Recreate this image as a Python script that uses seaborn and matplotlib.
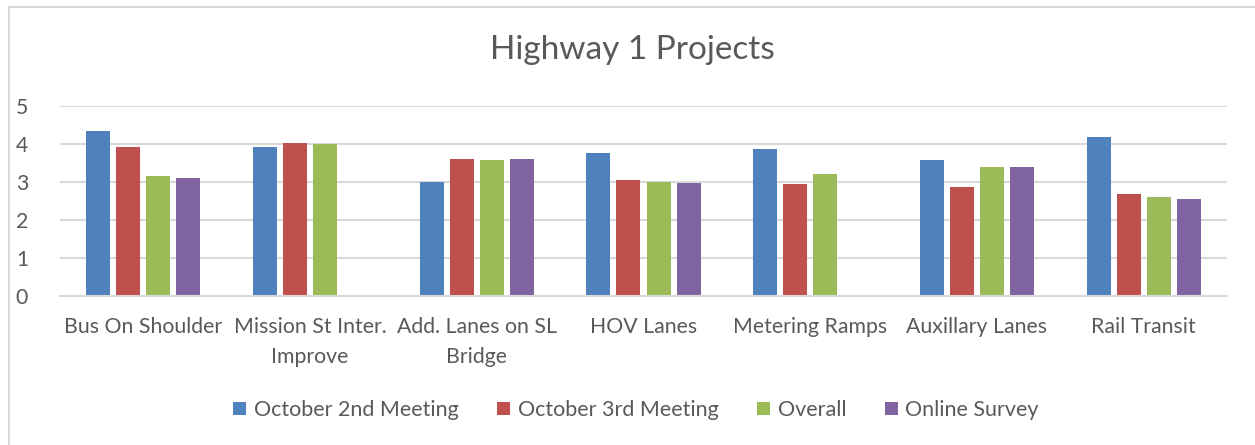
import numpy as np
import pandas as pd
import matplotlib
matplotlib.use("Agg")
import matplotlib.pyplot as plt
from matplotlib.patches import Patch, Rectangle
import seaborn as sns

projects = ["Bus On Shoulder", "Mission St Inter.\nImprove", "Add. Lanes on SL\nBridge",
            "HOV Lanes", "Metering Ramps", "Auxillary Lanes", "Rail Transit"]
series = ["October 2nd Meeting", "October 3rd Meeting", "Overall", "Online Survey"]
oct2 = [4.33, 3.91, 3.00, 3.75, 3.87, 3.57, 4.18]
oct3 = [3.91, 4.02, 3.59, 3.04, 2.95, 2.85, 2.69]
overall = [3.16, 4.00, 3.58, 2.99, 3.19, 3.38, 2.59]
online = [3.11, np.nan, 3.59, 2.96, np.nan, 3.39, 2.55]
colors = ["#4F81BD", "#C0504D", "#9BBB59", "#8064A2"]
yticks = [0, 1, 2, 3, 4, 5]

rows = []
for s, vals in zip(series, [oct2, oct3, overall, online]):
    for p, v in zip(projects, vals):
        rows.append({"project": p, "series": s, "score": v})
df = pd.DataFrame(rows)

sns.set_theme(style="white")
plt.rcParams["font.family"] = ["Lato", "DejaVu Sans"]
txt = "#595959"
grid = "#D9D9D9"

W, H = 1255, 445
fig = plt.figure(figsize=(W / 100, H / 100), dpi=100)
fig.patch.set_facecolor("white")
ax = fig.add_axes([60 / W, 1 - 296 / H, 1167 / W, 190.5 / H])

sns.barplot(data=df, x="project", y="score", hue="series", order=projects,
            hue_order=series, palette=colors, width=0.72, gap=0.2,
            errorbar=None, saturation=1, legend=False, ax=ax, linewidth=0)

ax.set_ylim(0, 5)
ax.set_yticks(yticks)
ax.set_xlim(-0.5, len(projects) - 0.5)
ax.yaxis.grid(True, color=grid, linewidth=1.5)
ax.set_axisbelow(True)
for sp in ["top", "right", "left"]:
    ax.spines[sp].set_visible(False)
ax.spines["bottom"].set_color(grid)
ax.spines["bottom"].set_linewidth(1.5)
ax.tick_params(axis="both", length=0, labelsize=15.3, colors=txt)
ax.tick_params(axis="y", pad=23)
ax.tick_params(axis="x", pad=15)
ax.set_xlabel("")
ax.set_ylabel("")
for lab in ax.get_xticklabels():
    lab.set_linespacing(1.62)

fig.text(632 / W, 1 - 50 / H, "Highway 1 Projects", ha="center", va="center",
         fontsize=24, color=txt)

handles = [Patch(facecolor=c, edgecolor="none") for c in colors]
fig.legend(handles, series, loc="center", bbox_to_anchor=(636 / W, 1 - 410 / H),
           ncol=4, frameon=False, fontsize=15.5, labelcolor=txt,
           handlelength=0.6, handleheight=0.6, handletextpad=0.35,
           columnspacing=1.8)

fig.patches.append(Rectangle((8.5 / W, -0.1), 1.2, (H - 7) / H + 0.1,
                             transform=fig.transFigure, fill=False,
                             edgecolor=grid, linewidth=1.5))

fig.savefig("out.png", dpi=100)
